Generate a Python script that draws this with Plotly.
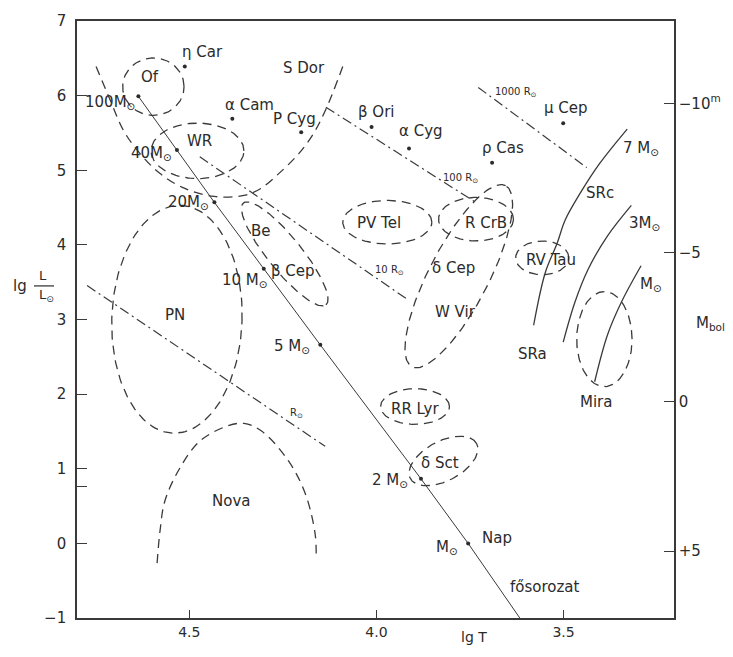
import numpy as np
import plotly.graph_objects as go

# ---------------- axes ----------------
LGT_RANGE = [4.80, 3.205]
LGL_RANGE = [-1.0, 7.0]
lgT_ticks = [4.5, 4.0, 3.5]
lgT_ticktext = ["4.5", "4.0", "3.5"]
lgL_ticks = [-1, 0, 0.76, 1, 2, 3, 4, 5, 6, 7]
lgL_ticktext = ["−1", "0", "", "1", "2", "3", "4", "5", "6", "7"]
MBOL_SUN = 4.74
mbol_ticks = [-10, -5, 0, 5]
mbol_ticktext = ["−10<sup>m</sup>", "−5", "0", "+5"]

# ---------------- main sequence ----------------
ms_mass = ["100M", "40M", "20M", "10 M", "5 M", "2 M", "M"]
ms_lgT = [4.636, 4.533, 4.433, 4.301, 4.150, 3.881, 3.755]
ms_lgL = [5.99, 5.27, 4.57, 3.68, 2.66, 0.865, 0.0]
ms_tail_lgT = [3.617]
ms_tail_lgL = [-1.0]

# ---------------- individual stars ----------------
star_names = ["η Car", "α Cam", "P Cyg", "β Ori", "α Cyg", "ρ Cas", "μ Cep"]
star_lgT = [4.512, 4.385, 4.201, 4.013, 3.913, 3.691, 3.501]
star_lgL = [6.39, 5.69, 5.51, 5.58, 5.29, 5.10, 5.63]

# ---------------- constant-radius lines ----------------
radius_names = ["R", "10 R", "100 R", "1000 R"]
radius_lgT0 = [4.773, 4.472, 4.135, 3.728]
radius_lgL0 = [3.455, 5.18, 5.845, 6.11]
radius_lgT1 = [4.137, 3.913, 3.739, 3.438]
radius_lgL1 = [1.30, 3.255, 4.583, 5.035]
radius_lab_lgT = [4.214, 3.966, 3.776, 3.628]
radius_lab_lgL = [1.741, 3.653, 4.888, 6.044]

# ---------------- evolutionary tracks ----------------
track_names = ["7 M", "3M", "M"]
track_lgT = [
    [3.330, 3.404, 3.456, 3.496, 3.517, 3.549, 3.580],
    [3.319, 3.383, 3.435, 3.470, 3.501],
    [3.293, 3.346, 3.383, 3.417],
]
track_lgL = [
    [5.552, 5.088, 4.689, 4.331, 4.025, 3.627, 2.923],
    [4.530, 4.118, 3.667, 3.228, 2.697],
    [3.720, 3.228, 2.790, 2.166],
]
track_lab_lgT = [3.293, 3.285, 3.266]
track_lab_lgL = [5.287, 4.291, 3.468]

# ---------------- variable-star and other regions (ellipses) ----------------
region_names = ["Of", "WR", "PN", "Be", "PV Tel", "R CrB", "δ Cep / W Vir",
                "RV Tau", "Mira", "RR Lyr", "δ Sct"]
region_lgT = [4.596, 4.478, 4.533, 4.245, 3.971, 3.734, 3.780,
              3.557, 3.391, 3.897, 3.821]
region_lgL = [6.12, 5.26, 3.003, 3.879, 4.304, 4.344, 3.58,
              3.826, 2.737, 1.834, 1.104]
region_a = [0.082, 0.124, 0.174, 0.175, 0.119, 0.100, 0.272,
            0.071, 0.074, 0.092, 0.100]
region_b = [0.385, 0.372, 1.527, 0.226, 0.292, 0.292, 0.40,
            0.226, 0.637, 0.239, 0.266]
region_tilt = [0, 0, -2, -51, 0, 0, 62.6, 0, 0, 0, 27.6]

# open outlines
sdor_lgT = [4.749, 4.710, 4.675, 4.631, 4.578, 4.512, 4.433, 4.354,
            4.309, 4.261, 4.208, 4.169, 4.135, 4.090]
sdor_lgL = [6.389, 5.924, 5.526, 5.220, 4.955, 4.756, 4.649, 4.663,
            4.756, 4.955, 5.220, 5.486, 5.818, 6.389]
nova_lgT = [4.586, 4.578, 4.565, 4.525, 4.472, 4.401, 4.354, 4.306,
            4.235, 4.190, 4.164, 4.161]
nova_lgL = [-0.264, 0.174, 0.572, 1.011, 1.369, 1.568, 1.608, 1.502,
            1.104, 0.665, 0.134, -0.184]

# region / class labels
label_text = ["Of", "WR", "S Dor", "PN", "Be", "β Cep", "PV Tel", "R CrB",
              "δ Cep", "W Vir", "RV Tau", "RR Lyr", "δ Sct", "Nova",
              "SRc", "SRa", "Mira", "fősorozat"]
label_lgT = [4.604, 4.472, 4.193, 4.538, 4.309, 4.222, 3.992, 3.707,
             3.794, 3.789, 3.533, 3.897, 3.831, 4.388,
             3.404, 3.583, 3.414, 3.549]
label_lgL = [6.243, 5.393, 6.376, 3.056, 4.185, 3.653, 4.291, 4.291,
             3.693, 3.096, 3.800, 1.807, 1.077, 0.572,
             4.689, 2.538, 1.901, -0.583]

# ---------------- styling ----------------
INK = "#2b2b2b"
LINE = "#3a3a3a"
FONT = "DejaVu Sans"
SUN = "<sub>⊙</sub>"
DASH = "9px,6px"
DASHDOT = "10px,4px,2px,4px"

W, H = 733, 657
ML, MR, MT, MB = 77, 53, 16, 39
SX = (W - ML - MR) / (LGT_RANGE[0] - LGT_RANGE[1])   # px per dex of T
SY = (H - MT - MB) / (LGL_RANGE[1] - LGL_RANGE[0])   # px per dex of L


def ellipse(cx, cy, a, b, tilt, n=160):
    """Outline of an ellipse drawn in screen proportions, returned in data units."""
    t = np.linspace(0, 2 * np.pi, n)
    x0 = a * SX * np.cos(t)
    y0 = b * SY * np.sin(t)
    th = np.radians(tilt)
    x = x0 * np.cos(th) - y0 * np.sin(th)
    y = x0 * np.sin(th) + y0 * np.cos(th)
    return cx - x / SX, cy + y / SY


fig = go.Figure()

# region ellipses
for name, cx, cy, a, b, tl in zip(region_names, region_lgT, region_lgL,
                                  region_a, region_b, region_tilt):
    ex, ey = ellipse(cx, cy, a, b, tl)
    fig.add_trace(go.Scatter(x=ex, y=ey, mode="lines", name=name,
                             line=dict(color=LINE, width=1.3, dash=DASH),
                             hoverinfo="skip"))

# S Dor and Nova outlines
for xs, ys in [(sdor_lgT, sdor_lgL), (nova_lgT, nova_lgL)]:
    fig.add_trace(go.Scatter(x=xs, y=ys, mode="lines",
                             line=dict(color=LINE, width=1.3, dash=DASH,
                                       shape="spline"),
                             hoverinfo="skip"))

# constant radius lines
for x0, y0, x1, y1 in zip(radius_lgT0, radius_lgL0, radius_lgT1, radius_lgL1):
    fig.add_trace(go.Scatter(x=[x0, x1], y=[y0, y1], mode="lines",
                             line=dict(color=LINE, width=1.2, dash=DASHDOT),
                             hoverinfo="skip"))

# evolutionary tracks
for xs, ys in zip(track_lgT, track_lgL):
    fig.add_trace(go.Scatter(x=xs, y=ys, mode="lines",
                             line=dict(color=LINE, width=1.3, shape="spline"),
                             hoverinfo="skip"))

# main sequence
fig.add_trace(go.Scatter(x=ms_lgT + ms_tail_lgT, y=ms_lgL + ms_tail_lgL,
                         mode="lines", line=dict(color=LINE, width=1.0),
                         hoverinfo="skip"))
fig.add_trace(go.Scatter(x=ms_lgT, y=ms_lgL, mode="markers",
                         marker=dict(color=INK, size=4), hoverinfo="skip"))

# stars
fig.add_trace(go.Scatter(x=star_lgT, y=star_lgL, mode="markers",
                         marker=dict(color=INK, size=4), hoverinfo="skip"))

# invisible trace carrying the bolometric magnitude axis
fig.add_trace(go.Scatter(x=[LGT_RANGE[0]], y=[MBOL_SUN], yaxis="y2",
                         mode="markers", marker=dict(opacity=0),
                         hoverinfo="skip"))

ann = []

# main-sequence mass labels
ms_shift = [(-1, -6), (-3, -3), (-3, 0), (6, -12), (-8, -2), (-11, -2), (-8, -4)]
for m, x, y, (dx, dy) in zip(ms_mass, ms_lgT, ms_lgL, ms_shift):
    ann.append(dict(x=x, y=y, text=m + SUN, xanchor="right", yanchor="middle",
                    xshift=dx, yshift=dy, showarrow=False,
                    font=dict(size=15, color=INK, family=FONT)))
ann.append(dict(x=ms_lgT[-1], y=ms_lgL[-1], text="Nap", xanchor="left",
                yanchor="middle", xshift=12, yshift=5, showarrow=False,
                font=dict(size=15, color=INK, family=FONT)))

# star labels
star_shift = [(-5, 15), (-9, 14), (-30, 13), (-16, 15), (-12, 18), (-12, 15), (-21, 15)]
for s, x, y, (dx, dy) in zip(star_names, star_lgT, star_lgL, star_shift):
    ann.append(dict(x=x, y=y, text=s, xanchor="left", yanchor="middle",
                    xshift=dx, yshift=dy, showarrow=False,
                    font=dict(size=15, color=INK, family=FONT)))

# radius labels
for r, x, y in zip(radius_names, radius_lab_lgT, radius_lab_lgL):
    ann.append(dict(x=x, y=y, text=r + SUN, showarrow=False,
                    font=dict(size=10, color=INK, family=FONT)))

# track labels
for t, x, y in zip(track_names, track_lab_lgT, track_lab_lgL):
    ann.append(dict(x=x, y=y, text=t + SUN, showarrow=False,
                    font=dict(size=15, color=INK, family=FONT)))

# region labels
for t, x, y in zip(label_text, label_lgT, label_lgL):
    ann.append(dict(x=x, y=y, text=t, showarrow=False,
                    font=dict(size=15, color=INK, family=FONT)))

# axis titles
ann += [
    dict(xref="paper", x=0, y=3.45, text="lg", xanchor="center",
         xshift=-57, showarrow=False, font=dict(size=15, color=INK, family=FONT)),
    dict(xref="paper", x=0, y=3.45, text="L", xanchor="center",
         xshift=-34, yshift=10, showarrow=False,
         font=dict(size=13, color=INK, family=FONT)),
    dict(xref="paper", x=0, y=3.45, text="L" + SUN, xanchor="center",
         xshift=-31, yshift=-10, showarrow=False,
         font=dict(size=13, color=INK, family=FONT)),
    dict(xref="paper", yref="paper", x=0.665, y=0, text="lg T",
         yshift=-29, showarrow=False, font=dict(size=14, color=INK, family=FONT)),
    dict(xref="paper", x=1, y=2.95, text="M<sub>bol</sub>", xanchor="left",
         xshift=20, showarrow=False, font=dict(size=15, color=INK, family=FONT)),
]

fig.update_layout(
    width=W, height=H,
    margin=dict(l=ML, r=MR, t=MT, b=MB),
    plot_bgcolor="white", paper_bgcolor="white",
    showlegend=False,
    annotations=ann,
    shapes=[dict(type="line", xref="paper", yref="y", xsizemode="pixel",
                 xanchor=0, x0=-43, x1=-23, y0=3.45, y1=3.45,
                 line=dict(color=INK, width=1.2))],
    xaxis=dict(range=LGT_RANGE, tickvals=lgT_ticks, ticktext=lgT_ticktext,
               ticks="inside", ticklen=8, tickwidth=1.3, tickcolor=LINE,
               showline=True, linecolor=LINE, linewidth=1.6, mirror=True,
               showgrid=False, zeroline=False,
               tickfont=dict(size=14, color=INK, family=FONT)),
    yaxis=dict(range=LGL_RANGE, tickvals=lgL_ticks, ticktext=lgL_ticktext,
               ticks="inside", ticklen=10, tickwidth=1.3, tickcolor=LINE,
               showline=True, linecolor=LINE, linewidth=1.6,
               showgrid=False, zeroline=False, ticklabelstandoff=6,
               tickfont=dict(size=15, color=INK, family=FONT)),
    yaxis2=dict(overlaying="y", side="right",
                range=[MBOL_SUN - 2.5 * LGL_RANGE[0], MBOL_SUN - 2.5 * LGL_RANGE[1]],
                tickvals=mbol_ticks, ticktext=mbol_ticktext,
                ticks="inside", ticklen=10, tickwidth=1.3, tickcolor=LINE,
                showline=True, linecolor=LINE, linewidth=1.6,
                showgrid=False, zeroline=False,
                tickfont=dict(size=15, color=INK, family=FONT)),
)

fig.write_html("out.html")
